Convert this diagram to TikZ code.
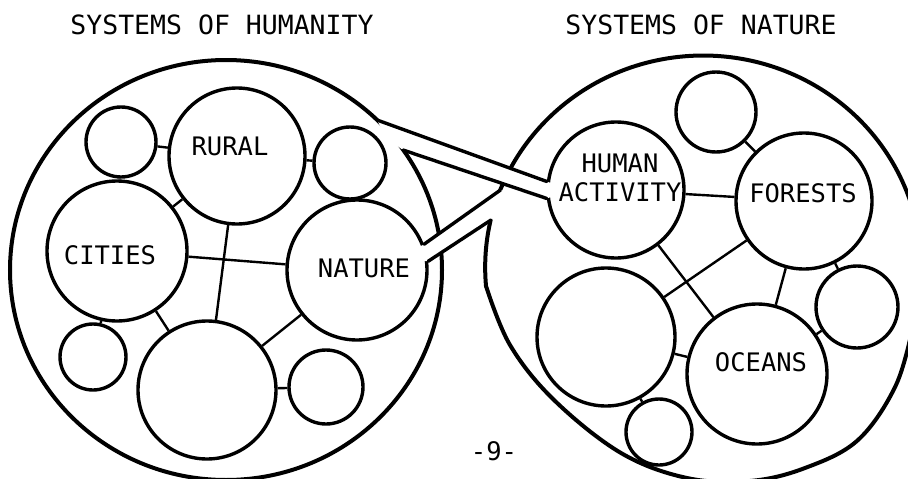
\documentclass[tikz,border=0pt]{standalone}
\usepackage{fontspec}
\newfontfamily\typewriter{DejaVu Sans Mono}
\usetikzlibrary{calc}

\begin{document}
\begin{tikzpicture}[
  x=1pt, y=-1pt,
  shell/.style={line width=4pt, line cap=round},
  bubble/.style={circle, draw, line width=3.4pt, fill=white, inner sep=0pt, minimum size=#1},
  tube/.style={line width=3.4pt, line cap=round},
  link/.style={line width=2.4pt},
  lbl/.style={font=\typewriter\fontsize{25.5}{29}\selectfont, inner sep=0pt, align=center}
]
\useasboundingbox (0,0) rectangle (908,479);
\clip (0,0) rectangle (908,479);
\draw[shell] (226,270) ellipse [x radius=216, y radius=210];
\draw[shell] (486,286) arc[start angle=175, end angle=375, x radius=218, y radius=212];
\draw[shell] plot[smooth, tension=0.6] coordinates {
  (913.6,323) (896,385) (858,440) (805,468) (750,481) (687,478) (621,453)
  (554,400) (510,345) (486,286)};
\node[bubble=136] (human)  at (616,190) {};
\node[bubble=140] (nature) at (357,270) {};
% tube from the nature shell into NATURE
\coordinate (nu) at (500.5,190);
\coordinate (nl) at (491,220);
\fill[white] (506,191) -- (nu) -- (nature.21) -- (419,247) -- (423,261) -- (nature.7)
  -- (nl) -- (497,220) -- cycle;
\draw[tube] (nu) -- (nature.21);
\draw[tube] (nl) -- (nature.7);
% tube from the humanity shell into HUMAN ACTIVITY
\coordinate (hu) at (377,120);
\coordinate (hl) at (403,150);
\fill[white] (hu) -- (human.173) -- (551,183) -- (551,197) -- (human.187) -- (hl)
  -- (386,138) -- cycle;
\draw[tube] (hu) -- (human.173);
\draw[tube] (hl) -- (human.187);
\node[bubble=70]  (hTL)    at (121,142) {};
\node[bubble=136] (rural)  at (237,156) {};
\node[bubble=72]  (hTR)    at (350,163) {};
\node[bubble=140] (cities) at (117,251) {};
\node[bubble=66]  (hBL)    at (93,357)  {};
\node[bubble=138] (hBig)   at (207,390) {};
\node[bubble=74]  (hBR)    at (326,387) {};
\node[bubble=80]  (nTop)    at (716,112) {};
\node[bubble=136] (forests) at (804,201) {};
\node[bubble=138] (nBig)    at (606,337) {};
\node[bubble=140] (oceans)  at (757,374) {};
\node[bubble=82]  (nR)      at (857,307) {};
\node[bubble=66]  (nBot)    at (659,432) {};
\draw[link] (hTL) -- (rural);
\draw[link] (hTL) -- (cities);
\draw[link] (rural) -- (hTR);
\draw[link] (rural) -- (cities);
\draw[link] (rural) -- (hBig);
\draw[link] (cities) -- (nature);
\draw[link] (cities) -- (hBL);
\draw[link] (cities) -- (hBig);
\draw[link] (nature) -- (hBig);
\draw[link] (hBig) -- (hBR);
\draw[link] (nTop) -- (forests);
\draw[link] (human) -- (forests);
\draw[link] (human) -- (oceans);
\draw[link] (forests) -- (nBig);
\draw[link] (forests) -- (oceans);
\draw[link] (forests) -- (nR);
\draw[link] (oceans) -- (nR);
\draw[link] (nBig) -- (oceans);
\draw[link] (nBig) -- (nBot);
\node[lbl, font=\typewriter\fontsize{26.5}{30}\selectfont] (tHum) at (222,25) {SYSTEMS OF HUMANITY};
\node[lbl, font=\typewriter\fontsize{26.5}{30}\selectfont] (tNat) at (701,25) {SYSTEMS OF NATURE};
\node[lbl] (lRural)   at (230,146) {RURAL};
\node[lbl] (lCities)  at (110,255) {CITIES};
\node[lbl] (lNature)  at (364,268) {NATURE};
\node[lbl] (lHuman)   at (620,178) {HUMAN\\ACTIVITY};
\node[lbl] (lForests) at (803,193) {FORESTS};
\node[lbl] (lOceans)  at (761,362) {OCEANS};
\node[lbl] (lPage)    at (494,451) {-9-};
\end{tikzpicture}
\end{document}
